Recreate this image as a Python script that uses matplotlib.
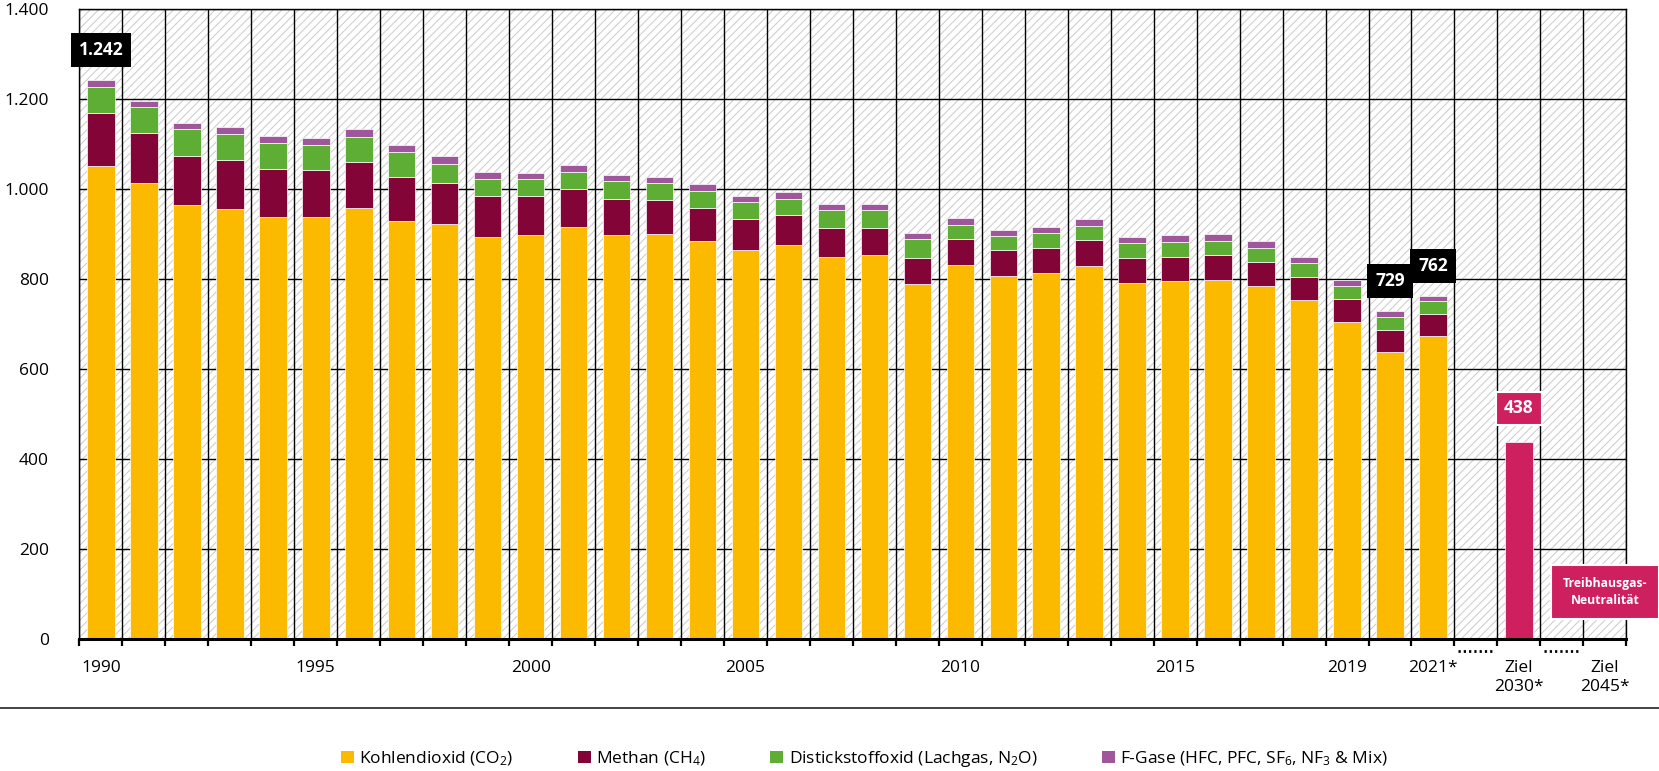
import numpy as np
import matplotlib
matplotlib.use("Agg")
import matplotlib.pyplot as plt
from matplotlib.patches import Rectangle, Patch
from matplotlib.lines import Line2D

plt.rcParams['font.family'] = ['Open Sans', 'DejaVu Sans']
plt.rcParams['mathtext.default'] = 'regular'
plt.rcParams['hatch.color'] = '#cacaca'
plt.rcParams['hatch.linewidth'] = 0.7

# Treibhausgas-Emissionen in Mio. t CO2-Äquivalente
years = list(range(1990, 2022))
co2 = [1052, 1014, 966, 956, 939, 939, 959, 930, 923, 895, 899, 916, 899, 900, 886, 866,
       877, 850, 853, 790, 832, 808, 813, 830, 792, 796, 799, 786, 755, 706, 639, 675]
ch4 = [118, 112, 109, 110, 107, 105, 101, 98, 92, 91, 87, 84, 80, 77, 73, 69,
       65, 63, 62, 58, 58, 57, 57, 57, 55, 54, 55, 53, 50, 50, 49, 47]
n2o = [58, 57, 58, 56, 57, 54, 57, 54, 41, 38, 37, 39, 39, 38, 38, 37,
       36, 40, 39, 41, 31, 31, 32, 32, 33, 32, 32, 31, 31, 29, 28, 29]
fgas = [14, 13, 14, 16, 16, 17, 16, 17, 17, 15, 13, 14, 14, 13, 15, 14,
        15, 14, 14, 13, 15, 14, 14, 14, 14, 16, 15, 15, 14, 14, 13, 11]
ziel_2030 = 438

series = [co2, ch4, n2o, fgas]
series_names = ["Kohlendioxid (CO$_2$)", "Methan (CH$_4$)",
                "Distickstoffoxid (Lachgas, N$_2$O)",
                "F-Gase (HFC, PFC, SF$_6$, NF$_3$ & Mix)"]
colors = ["#fbba00", "#830538", "#5ead35", "#9d579a"]
magenta = "#ce1f5e"

xlabels = {0: "1990", 5: "1995", 10: "2000", 15: "2005", 20: "2010", 25: "2015",
           29: "2019", 31: "2021*", 33: "Ziel\n2030*", 35: "Ziel\n2045*"}
nslots = 36

fig = plt.figure(figsize=(16.59, 7.71), dpi=100)
ax = fig.add_axes([0.0479, 0.1708, 0.9324, 0.8171])

# hatched background
ax.add_patch(Rectangle((0, 0), 1, 1, transform=ax.transAxes, facecolor='white',
                       edgecolor='#cacaca', hatch='////', linewidth=0, zorder=0))

x = np.arange(len(years))
bottom = np.zeros(len(years))
for vals, col in zip(series, colors):
    ax.bar(x, vals, width=0.64, bottom=bottom, color=col, edgecolor='white',
           linewidth=0.5, zorder=3)
    bottom += np.array(vals)

ax.bar([33], [ziel_2030], width=0.64, color=magenta, edgecolor='white', linewidth=0.5, zorder=3)

ax.set_xlim(-0.5, nslots - 0.5)
ax.set_ylim(0, 1400)

# grid on slot boundaries
ax.set_xticks(np.arange(-0.5, nslots, 1.0))
ax.set_xticklabels([])
ax.set_xticks(list(xlabels.keys()), minor=True)
ax.set_xticklabels(list(xlabels.values()), minor=True)
ax.tick_params(axis='x', which='major', direction='out', length=5, width=1.6, color='black')
ax.tick_params(axis='x', which='minor', length=0, pad=15, labelsize=12.5)
ax.set_yticks(range(0, 1401, 200))
ax.set_yticklabels([f"{v:,}".replace(",", ".") for v in range(0, 1401, 200)])
ax.tick_params(axis='y', length=0, pad=22, labelsize=12.5)
ax.grid(True, which='major', color='black', linewidth=1.0, zorder=1)
ax.set_axisbelow(False)
for gl in ax.get_xgridlines() + ax.get_ygridlines():
    gl.set_zorder(2)
for s in ax.spines.values():
    s.set_color('black')
    s.set_linewidth(1.0)
ax.spines['bottom'].set_linewidth(2.2)
ax.spines['bottom'].set_zorder(5)

# dotted gaps under the axis
for gx in [32, 34]:
    ax.plot([gx - 0.42, gx + 0.42], [-25, -25], color='black', linestyle=(0, (0.8, 1.1)),
            linewidth=2, clip_on=False)

# value boxes
box = dict(boxstyle='square,pad=0.45', fc='black', ec='none')
ax.text(0, 1310, "1.242", ha='center', va='center', color='white', fontsize=12.5,
        fontweight='bold', bbox=box, zorder=6)
ax.text(30, 796, "729", ha='center', va='center', color='white', fontsize=12.5,
        fontweight='bold', bbox=box, zorder=6)
ax.text(31, 830, "762", ha='center', va='center', color='white', fontsize=12.5,
        fontweight='bold', bbox=box, zorder=6)
ax.text(33, 513, "438", ha='center', va='center', color='white', fontsize=12.5,
        fontweight='bold', zorder=6,
        bbox=dict(boxstyle='square,pad=0.45', fc=magenta, ec='white', lw=1.5))
ax.text(35, 105, "Treibhausgas-\nNeutralität", ha='center', va='center', color='white',
        fontsize=8.8, fontweight='bold', zorder=6, clip_on=False, linespacing=1.45,
        bbox=dict(boxstyle='square,pad=0.95', fc=magenta, ec='white', lw=1.5))

# separator line
fig.add_artist(Line2D([0, 1], [0.0821, 0.0821], transform=fig.transFigure,
                      color='#222222', linewidth=1.2))

handles = [Patch(facecolor=c, edgecolor='none') for c in colors]
fig.legend(handles, series_names, loc='center', bbox_to_anchor=(0.521, 0.0156), ncol=4,
           frameon=False, fontsize=12.5, handlelength=0.75, handleheight=0.75,
           handletextpad=0.3, columnspacing=3.7)

fig.savefig("out.png", dpi=100)
